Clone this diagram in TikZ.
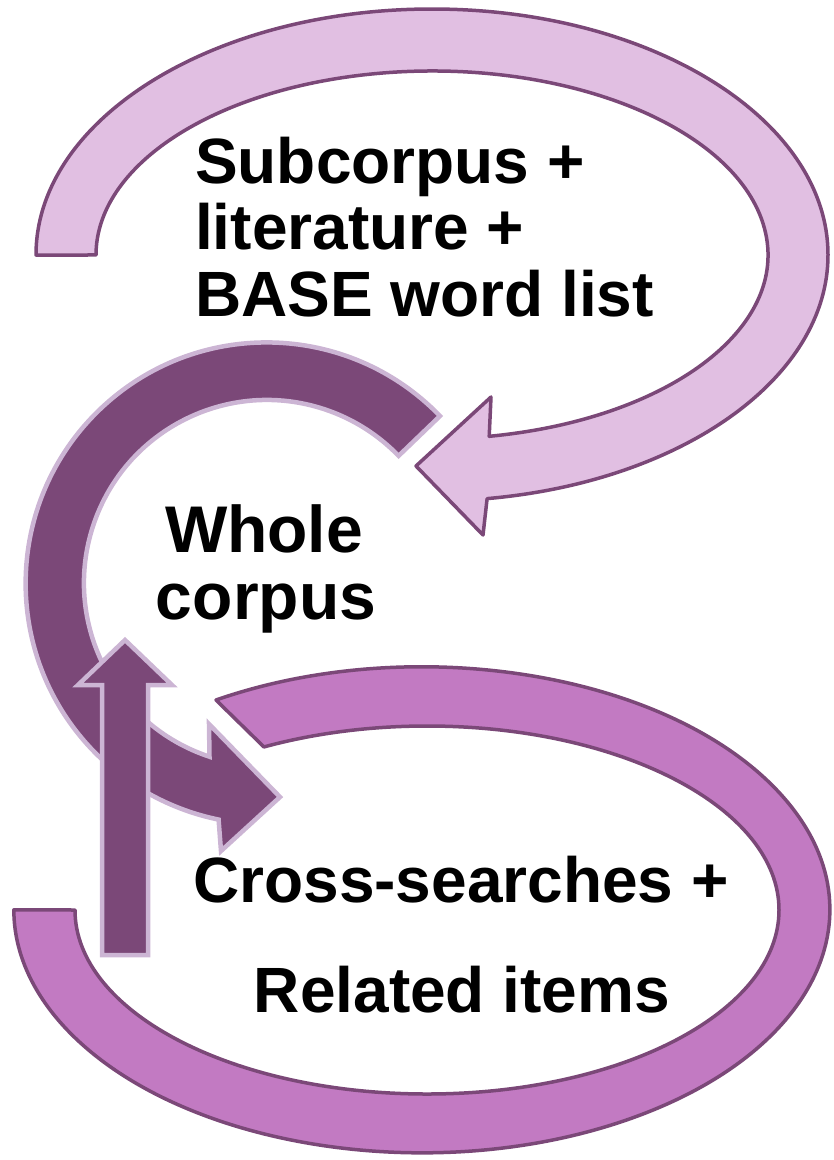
\documentclass[tikz,border=0pt]{standalone}
\usepackage{fontspec}
\setmainfont{Liberation Sans}
\definecolor{lilac}{RGB}{225,191,226}
\definecolor{plum}{RGB}{123,72,120}
\definecolor{paleplum}{RGB}{204,181,212}
\definecolor{orchid}{RGB}{194,122,194}
\tikzset{
  lightloop/.style={fill=lilac,draw=plum,line width=3.5pt,line join=round},
  darkloop/.style={fill=plum,draw=paleplum,line width=4.5pt,line join=miter},
  orchidloop/.style={fill=orchid,draw=plum,line width=3.5pt,line join=round},
  caption/.style={font=\fontsize{64}{67}\selectfont\bfseries,inner sep=0pt,anchor=base west},
  bigcaption/.style={caption,font=\fontsize{66}{67}\selectfont\bfseries,anchor=base}
}

\begin{document}
\begin{tikzpicture}[x=1pt,y=-1pt]
  \useasboundingbox (0,0) rectangle (834,1160);

  % top loop, light
  \draw[lightloop] (36,255) arc[start angle=180,end angle=442,x radius=396,y radius=246]
    -- (483,535) -- (416,466) -- (491,397) -- (489.2,436.3)
    arc[start angle=440.2,end angle=180,x radius=336,y radius=184] -- cycle;

  % middle loop, dark
  \draw[darkloop] (440,416) arc[start angle=-44,end angle=-258.5,radius=241]
    -- (221,851) -- (280,797) -- (209,724) -- (209.5,756.7)
    arc[start angle=-251.7,end angle=-44,radius=183] -- cycle;

  % bottom loop
  \draw[orchidloop] (216,700) arc[start angle=-120.3,end angle=180,x radius=408,y radius=243]
    -- (75,910) arc[start angle=180,end angle=-117.6,x radius=352,y radius=184] -- cycle;

  % straight arrow back up
  \draw[darkloop] (125,640) -- (172,685) -- (148,685) -- (148,955)
    -- (102,955) -- (102,685) -- (78,685) -- cycle;

  \node[caption] (sub) at (195,183) {Subcorpus +};
  \node[caption] (lit) at (195,249) {literature +};
  \node[caption] (base) at (195,316) {BASE word list};

  \node[bigcaption] (whole) at (264,552) {Whole};
  \node[bigcaption] (corpus) at (266,619) {corpus};

  \node[caption,anchor=base] (cross) at (461,902) {Cross-searches +};
  \node[caption,anchor=base] (related) at (462,1012) {Related items};
\end{tikzpicture}
\end{document}
